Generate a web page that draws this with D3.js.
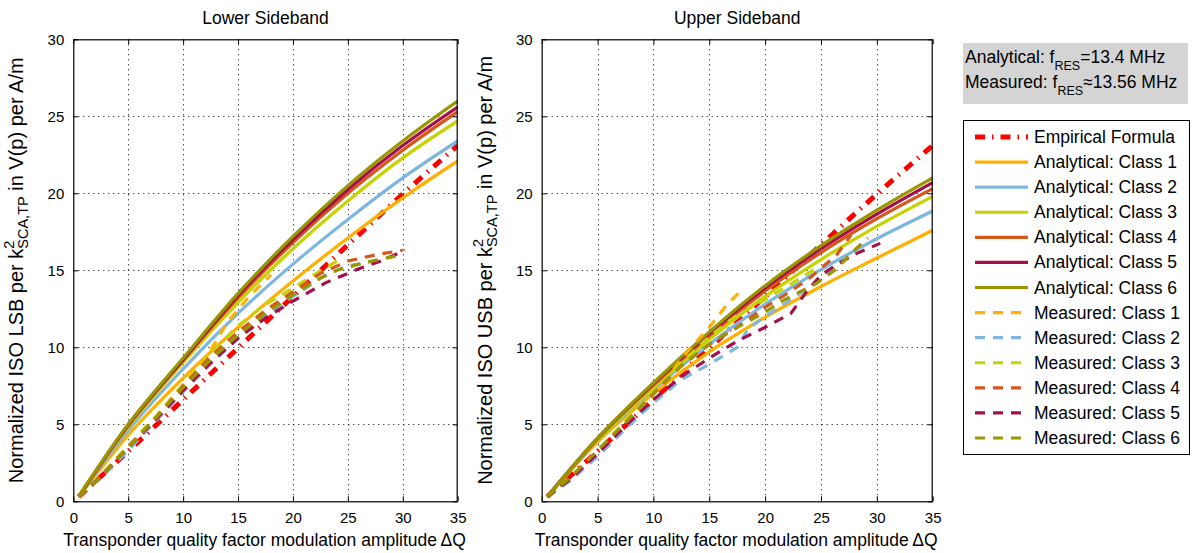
<!DOCTYPE html>
<html>
<head>
<meta charset="utf-8">
<script src="https://cdn.jsdelivr.net/npm/d3@7"></script>
<style>
  body { margin: 0; background: #fff; }
  svg { display: block; font-family: "Liberation Sans", Arial, sans-serif; }
</style>
</head>
<body>
<svg id="chart" width="1204" height="553"></svg>
<script>
// ---- Data -------------------------------------------------------------
const classNames = ["Class 1", "Class 2", "Class 3", "Class 4", "Class 5", "Class 6"];
const classColors = ["#ffb000", "#7db7e0", "#c6d300", "#d9561a", "#a3104b", "#999700"];
const empiricalColor = "#ff0000";

const xTicks = [0, 5, 10, 15, 20, 25, 30, 35];
const yTicks = [0, 5, 10, 15, 20, 25, 30];

// sample positions (ΔQ) of the analytical curves and the empirical formula
const xModel = [0.5, 5, 10, 15, 20, 25, 30, 35];

const empirical = [0.3, 3.25, 6.6, 9.95, 13.3, 16.65, 19.95, 23.1];

// Lower sideband, analytical, classes 1..6
const lsbAnalytical = [
  [0.3, 4.3, 8.0, 11.3, 14.3, 17.1, 19.7, 22.1],
  [0.3, 4.6, 8.6, 12.2, 15.4, 18.3, 21.0, 23.4],
  [0.3, 4.8, 9.0, 12.9, 16.4, 19.5, 22.3, 24.7],
  [0.3, 4.9, 9.15, 13.2, 16.8, 20.0, 22.8, 25.3],
  [0.3, 4.95, 9.2, 13.35, 17.0, 20.25, 23.1, 25.6],
  [0.35, 5.0, 9.3, 13.5, 17.2, 20.5, 23.4, 26.0]
];

// Upper sideband, analytical, classes 1..6
const usbAnalytical = [
  [0.3, 3.85, 7.0, 9.7, 11.95, 13.95, 15.8, 17.6],
  [0.3, 3.95, 7.25, 10.2, 12.8, 15.05, 17.05, 18.85],
  [0.3, 4.0, 7.35, 10.5, 13.3, 15.7, 17.85, 19.8],
  [0.3, 4.05, 7.55, 10.75, 13.65, 16.15, 18.35, 20.3],
  [0.3, 4.1, 7.65, 10.9, 13.85, 16.4, 18.65, 20.7],
  [0.3, 4.1, 7.7, 11.0, 14.0, 16.6, 18.9, 21.0]
];

// Lower sideband, measured [ΔQ, value], classes 1..6
const lsbMeasured = [
  [[0.5,0.3],[2.5,1.6],[5,3.4],[7.5,5.3],[10,7.3],[12,9.2],[14,11.6],[16,13.3],[18,14.7]],
  [[0.5,0.3],[2.5,1.5],[5,3.3],[7.5,5.2],[10,7.1],[12.5,8.9],[15,10.6],[17.5,12.1],[20,13.3],[23,14.7],[25,15.3],[27,15.5]],
  [[0.5,0.3],[2.5,1.7],[5,3.6],[7.5,5.5],[10,7.6],[12.5,9.6],[15,11.4],[17.5,12.8],[19,13.4],[21,14.3],[24,15.6]],
  [[0.5,0.3],[2.5,1.6],[5,3.5],[7.5,5.4],[10,7.5],[12.5,9.4],[15,11.0],[17.5,12.4],[20,13.6],[22.5,14.8],[25,15.6],[27.5,16.0],[30,16.3]],
  [[0.5,0.3],[2.5,1.6],[5,3.5],[7.5,5.3],[10,7.2],[12.5,9.0],[15,10.6],[17.5,11.9],[20,13.0],[23,14.2],[26,15.1],[28,15.6],[30.2,16.3]],
  [[0.5,0.3],[2.5,1.6],[5,3.5],[7.5,5.4],[10,7.4],[12.5,9.2],[15,10.8],[17.5,12.2],[20,13.4],[22.5,14.5],[24,15.0],[26.5,15.5],[29.2,15.9],[30,16.1]]
];

// Upper sideband, measured [ΔQ, value], classes 1..6
const usbMeasured = [
  [[0.5,0.3],[2.5,1.4],[5,3.0],[7.5,4.8],[10,6.9],[11.5,8.3],[13,9.7],[15,11.3],[16.5,12.7],[18,13.8]],
  [[0.5,0.3],[2.5,1.3],[5,2.9],[7.5,4.7],[10,6.4],[12.5,7.9],[15,8.9],[17.5,10.0],[18.5,11.2],[20,12.0],[22.5,13.2],[25,14.4],[27,15.9]],
  [[0.5,0.3],[2.5,1.5],[5,3.3],[7.5,5.2],[10,7.1],[12.5,9.0],[15,10.7],[17.5,12.1],[20,13.1],[22.5,14.2],[24.5,15.1]],
  [[0.5,0.3],[2.5,1.5],[5,3.2],[7.5,5.1],[10,7.0],[12.5,8.8],[15,10.2],[17.5,11.3],[20,12.6],[22,13.5],[24,14.5],[26.4,16.0],[27.7,17.3]],
  [[0.5,0.3],[2.5,1.4],[5,3.1],[7.5,4.9],[10,6.6],[12.5,8.1],[15,9.3],[17.5,10.4],[20,11.3],[22.3,12.2],[23.7,13.6],[25,14.7],[26.6,15.45],[28.2,16.1],[30.3,16.75]],
  [[0.5,0.3],[2.5,1.5],[5,3.3],[7.5,5.1],[10,7.0],[12.5,8.8],[15,10.2],[17.5,11.3],[19.8,12.2],[21.5,13.0],[23.1,13.6],[24.6,14.15],[26.4,15.1],[27.7,16.1],[29.2,17.1]]
];

// ---- Drawing ------------------------------------------------------------
const svg = d3.select("#chart");
const TICK_FONT = 15;
const LABEL_FONT = 17.5;
const MEAS_DASH = "10,8";
const EMP_DASH = "10,7,1.5,7";

function drawPanel(cfg) {
  const { left, right, top, bottom, title, side, analytical, measured, id } = cfg;
  const x = d3.scaleLinear().domain([0, 35]).range([left, right]);
  const y = d3.scaleLinear().domain([0, 30]).range([bottom, top]);
  const g = svg.append("g");

  g.append("clipPath").attr("id", id).append("rect")
    .attr("x", left).attr("y", top).attr("width", right - left).attr("height", bottom - top);

  // dotted grid
  const grid = g.append("g").attr("stroke", "#000").attr("stroke-width", 1)
    .attr("stroke-dasharray", "1,4");
  grid.selectAll(".gx").data(xTicks.slice(1, -1)).join("line")
    .attr("x1", d => Math.round(x(d)) + 0.5).attr("x2", d => Math.round(x(d)) + 0.5)
    .attr("y1", top).attr("y2", bottom);
  grid.selectAll(".gy").data(yTicks.slice(1, -1)).join("line")
    .attr("y1", d => Math.round(y(d)) + 0.5).attr("y2", d => Math.round(y(d)) + 0.5)
    .attr("x1", left).attr("x2", right);

  const lines = g.append("g").attr("clip-path", `url(#${id})`).attr("fill", "none");

  const modelLine = d3.line().x((d, i) => x(xModel[i])).y(d => y(d)).curve(d3.curveMonotoneX);
  const measLine = d3.line().x(d => x(d[0])).y(d => y(d[1]));

  lines.append("path").attr("d", modelLine(empirical))
    .attr("stroke", empiricalColor).attr("stroke-width", 5)
    .attr("stroke-dasharray", EMP_DASH);

  analytical.forEach((vals, i) => {
    lines.append("path").attr("d", modelLine(vals))
      .attr("stroke", classColors[i]).attr("stroke-width", 3.2);
  });
  measured.forEach((pts, i) => {
    lines.append("path").attr("d", measLine(pts))
      .attr("stroke", classColors[i]).attr("stroke-width", 3.2)
      .attr("stroke-dasharray", MEAS_DASH);
  });

  // axes with inward ticks on all four sides
  const styleAxis = sel => {
    sel.select(".domain").remove();
    sel.selectAll("text").attr("font-size", TICK_FONT).attr("fill", "#000")
      .attr("font-family", "Liberation Sans, Arial, sans-serif");
    sel.selectAll("line").attr("stroke", "#000");
  };
  g.append("g").attr("transform", `translate(0,${bottom})`)
    .call(d3.axisBottom(x).tickValues(xTicks).tickSize(-5).tickPadding(11)).call(styleAxis);
  g.append("g").attr("transform", `translate(0,${top})`)
    .call(d3.axisTop(x).tickValues(xTicks).tickSize(-5).tickFormat("")).call(styleAxis);
  g.append("g").attr("transform", `translate(${left},0)`)
    .call(d3.axisLeft(y).tickValues(yTicks).tickSize(-5).tickPadding(9)).call(styleAxis);
  g.append("g").attr("transform", `translate(${right},0)`)
    .call(d3.axisRight(y).tickValues(yTicks).tickSize(-5).tickFormat("")).call(styleAxis);

  g.append("rect").attr("x", left + 0.5).attr("y", top + 0.5)
    .attr("width", right - left - 1).attr("height", bottom - top)
    .attr("fill", "none").attr("stroke", "#000").attr("stroke-width", 1.2);

  // title
  g.append("text").attr("x", (left + right) / 2).attr("y", 24)
    .attr("text-anchor", "middle").attr("font-size", LABEL_FONT).text(title);

  // x label
  g.append("text").attr("x", (left + right) / 2 - 1).attr("y", 546)
    .attr("text-anchor", "middle").attr("font-size", LABEL_FONT)
    .text("Transponder quality factor modulation amplitude\u2009ΔQ");

  // y label with stacked super/subscript
  const yl = g.append("text")
    .attr("transform", `translate(${left - 50},${(top + bottom) / 2}) rotate(-90)`)
    .attr("text-anchor", "middle").attr("font-size", 20);
  yl.append("tspan").text(`Normalized ISO ${side} per k`);
  yl.append("tspan").attr("font-size", 14.5).attr("dy", -9).text("2");
  yl.append("tspan").attr("font-size", 14.5).attr("dx", -8.1).attr("dy", 14).text("SCA,TP");
  yl.append("tspan").attr("dy", -5).text(" in V(p) per A/m");
}

drawPanel({ id: "clipL", left: 73.3, right: 457.7, top: 39.3, bottom: 501.3,
  title: "Lower Sideband", side: "LSB", analytical: lsbAnalytical, measured: lsbMeasured });
drawPanel({ id: "clipR", left: 541.7, right: 932.7, top: 39.3, bottom: 501.3,
  title: "Upper Sideband", side: "USB", analytical: usbAnalytical, measured: usbMeasured });

// ---- Resonance frequency note -----------------------------------------
const note = svg.append("g");
note.append("rect").attr("x", 963).attr("y", 43).attr("width", 225).attr("height", 61)
  .attr("fill", "#d4d4d4");
const n1 = note.append("text").attr("x", 965).attr("y", 63).attr("font-size", LABEL_FONT);
n1.append("tspan").text("Analytical: f");
n1.append("tspan").attr("font-size", 12.5).attr("dy", 7).text("RES");
n1.append("tspan").attr("dy", -7).text("=13.4 MHz");
const n2 = note.append("text").attr("x", 965).attr("y", 88).attr("font-size", LABEL_FONT);
n2.append("tspan").text("Measured: f");
n2.append("tspan").attr("font-size", 12.5).attr("dy", 7).text("RES");
n2.append("tspan").attr("dy", -7).text("≈13.56 MHz");

// ---- Legend ------------------------------------------------------------
const legendItems = [{ label: "Empirical Formula", color: empiricalColor, dash: EMP_DASH, w: 5 }]
  .concat(classNames.map((c, i) => ({ label: "Analytical: " + c, color: classColors[i], dash: null, w: 3.2 })))
  .concat(classNames.map((c, i) => ({ label: "Measured: " + c, color: classColors[i], dash: MEAS_DASH, w: 3.2 })));

const lg = svg.append("g");
lg.append("rect").attr("x", 963.5).attr("y", 120.5).attr("width", 226).attr("height", 334)
  .attr("fill", "#fff").attr("stroke", "#000").attr("stroke-width", 1);
const ly = d3.scaleLinear().domain([0, legendItems.length - 1]).range([137, 438]);
legendItems.forEach((d, i) => {
  lg.append("line").attr("x1", 975).attr("x2", 1028).attr("y1", ly(i)).attr("y2", ly(i))
    .attr("stroke", d.color).attr("stroke-width", d.w)
    .attr("stroke-dasharray", d.dash);
  lg.append("text").attr("x", 1034).attr("y", ly(i) + 6).attr("font-size", LABEL_FONT).text(d.label);
});
</script>
</body>
</html>
